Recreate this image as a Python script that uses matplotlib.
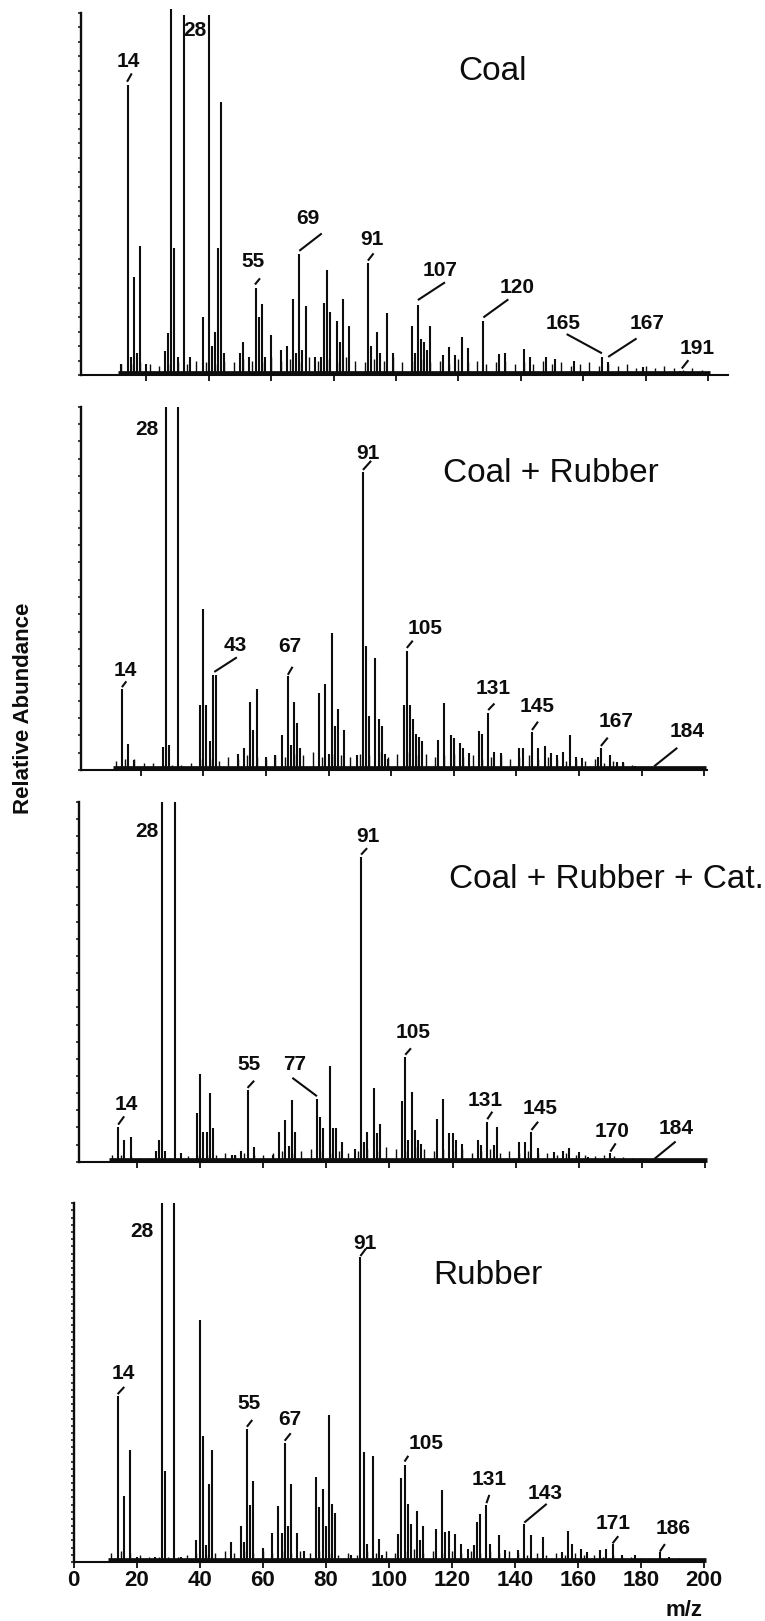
import matplotlib
matplotlib.use('Agg')
import matplotlib.pyplot as plt
import numpy as np

plt.rcParams['font.family'] = ['Liberation Sans', 'DejaVu Sans']

# ---------------- data (relative abundance, 1.0 = full scale) ----------------
coal_mz = [12, 14, 15, 16, 17, 18, 20, 26, 27, 28, 29, 30, 32, 34, 38, 40, 41, 42, 43, 44, 45,
           50, 51, 53, 55, 56, 57, 58, 60, 63, 65, 67, 68, 69, 70, 71, 74, 76, 77, 78, 79,
           81, 82, 83, 85, 91, 92, 94, 95, 97, 99, 105, 106, 107, 108, 109, 110, 111,
           115, 117, 119, 121, 123, 128, 133, 135, 141, 143, 148, 151, 157, 166, 168, 179, 191]
coal_h = [0.03, 0.80, 0.05, 0.27, 0.06, 0.355, 0.03, 0.065, 0.115, 1.01, 0.35, 0.05, 0.995, 0.05,
          0.16, 0.995, 0.08, 0.12, 0.35, 0.755, 0.06, 0.06, 0.09, 0.05, 0.24, 0.16, 0.196, 0.05,
          0.11, 0.07, 0.08, 0.21, 0.06, 0.335, 0.07, 0.19, 0.05, 0.05, 0.20, 0.29, 0.175,
          0.15, 0.09, 0.21, 0.135, 0.31, 0.08, 0.12, 0.06, 0.17, 0.06, 0.134, 0.06, 0.194, 0.10,
          0.09, 0.07, 0.134, 0.055, 0.077, 0.055, 0.106, 0.074, 0.148, 0.058, 0.06, 0.071, 0.05,
          0.05, 0.045, 0.04, 0.05, 0.037, 0.023, 0.011]

cr_mz = [14, 16, 18, 27, 28, 29, 32, 39, 40, 41, 42, 43, 44, 51, 53, 55, 56, 57, 60, 63, 65,
         67, 68, 69, 70, 71, 77, 79, 80, 81, 82, 83, 85, 89, 91, 92, 93, 95, 96, 97, 98, 99,
         104, 105, 106, 107, 108, 109, 110, 115, 117, 119, 120, 122, 123, 125, 128, 129, 131,
         133, 135, 141, 142, 145, 147, 149, 151, 153, 155, 157, 159, 161, 166, 167, 170, 172,
         174, 178]
cr_h = [0.222, 0.072, 0.027, 0.063, 1.0, 0.07, 1.0, 0.18, 0.443, 0.18, 0.08, 0.262, 0.262,
        0.045, 0.06, 0.186, 0.11, 0.224, 0.035, 0.04, 0.095, 0.258, 0.07, 0.186, 0.13, 0.06,
        0.213, 0.237, 0.045, 0.376, 0.12, 0.167, 0.11, 0.04, 0.82, 0.34, 0.15, 0.308, 0.14,
        0.12, 0.045, 0.03, 0.18, 0.327, 0.18, 0.14, 0.10, 0.09, 0.08, 0.083, 0.184, 0.097,
        0.088, 0.074, 0.06, 0.046, 0.108, 0.10, 0.157, 0.05, 0.046, 0.06, 0.06, 0.104, 0.06,
        0.065, 0.046, 0.04, 0.05, 0.097, 0.037, 0.032, 0.037, 0.06, 0.04, 0.023, 0.023, 0.01]

crc_mz = [14, 16, 18, 26, 27, 28, 29, 32, 34, 39, 40, 41, 42, 43, 44, 50, 51, 53, 55, 57, 63,
          65, 67, 68, 69, 70, 77, 78, 79, 81, 82, 83, 85, 89, 91, 92, 93, 95, 96, 97, 104, 105,
          106, 107, 108, 109, 110, 115, 117, 119, 120, 121, 123, 128, 129, 131, 133, 134, 141,
          143, 145, 147, 152, 155, 157, 160, 163, 170, 184]
crc_h = [0.097, 0.06, 0.07, 0.03, 0.06, 1.0, 0.03, 1.0, 0.025, 0.134, 0.245, 0.083, 0.083, 0.19,
         0.093, 0.02, 0.02, 0.03, 0.2, 0.04, 0.02, 0.083, 0.116, 0.045, 0.171, 0.083, 0.174,
         0.125, 0.093, 0.267, 0.093, 0.093, 0.056, 0.035, 0.847, 0.056, 0.083, 0.206, 0.08,
         0.106, 0.17, 0.29, 0.06, 0.194, 0.088, 0.06, 0.05, 0.118, 0.173, 0.08, 0.08, 0.06,
         0.05, 0.06, 0.046, 0.11, 0.046, 0.097, 0.055, 0.055, 0.083, 0.037, 0.028, 0.03, 0.037,
         0.028, 0.014, 0.023, 0.008]

rub_mz = [14, 16, 18, 20, 26, 28, 29, 32, 34, 39, 40, 41, 42, 43, 44, 50, 53, 54, 55, 56, 57,
          60, 63, 65, 66, 67, 68, 69, 71, 73, 77, 78, 79, 80, 81, 82, 83, 88, 91, 92, 93, 95,
          97, 98, 103, 104, 105, 106, 107, 109, 110, 111, 115, 117, 118, 119, 121, 123, 125,
          127, 128, 129, 131, 132, 135, 137, 141, 143, 145, 149, 155, 157, 158, 161, 163, 167,
          169, 171, 174, 178, 186, 189]
rub_h = [0.463, 0.185, 0.312, 0.015, 0.015, 1.0, 0.255, 1.0, 0.015, 0.06, 0.676, 0.352, 0.046,
         0.218, 0.312, 0.055, 0.10, 0.055, 0.37, 0.16, 0.225, 0.04, 0.08, 0.157, 0.08, 0.333,
         0.10, 0.218, 0.08, 0.03, 0.236, 0.153, 0.204, 0.10, 0.41, 0.162, 0.136, 0.02, 0.85,
         0.306, 0.05, 0.296, 0.065, 0.02, 0.079, 0.233, 0.27, 0.161, 0.107, 0.141, 0.06, 0.10,
         0.093, 0.20, 0.084, 0.087, 0.079, 0.051, 0.037, 0.047, 0.112, 0.135, 0.158, 0.051,
         0.074, 0.033, 0.033, 0.107, 0.076, 0.07, 0.028, 0.087, 0.051, 0.037, 0.028, 0.033,
         0.037, 0.051, 0.019, 0.019, 0.028, 0.014]

# low-level "grass" read every 3 m/z starting at m/z 12
coal_grass = [0.03, 0.03, 0.035, 0.03, 0.025, 0.03, 0.035, 0.03, 0.04, 0.035,
              0.03, 0.04, 0.035, 0.045, 0.04, 0.035, 0.05, 0.04, 0.045, 0.035,
              0.05, 0.04, 0.045, 0.035, 0.05, 0.04, 0.035, 0.045, 0.04, 0.05,
              0.035, 0.04, 0.045, 0.035, 0.04, 0.03, 0.045, 0.035, 0.04, 0.03,
              0.035, 0.04, 0.03, 0.035, 0.03, 0.04, 0.03, 0.035, 0.025, 0.03,
              0.035, 0.025, 0.03, 0.025, 0.03, 0.02, 0.025, 0.02, 0.025, 0.02,
              0.015, 0.02, 0.015]
cr_grass = [0.025, 0.03, 0.03, 0.02, 0.02, 0.015,
            0.015, 0.015, 0.02, 0.03, 0.03, 0.025, 0.035, 0.03, 0.04, 0.035,
            0.03, 0.04, 0.035, 0.045, 0.04, 0.05, 0.035, 0.045, 0.04, 0.035,
            0.045, 0.04, 0.05, 0.035, 0.045, 0.05, 0.04, 0.045, 0.035, 0.04,
            0.045, 0.035, 0.04, 0.03, 0.035, 0.04, 0.03, 0.035, 0.04, 0.03,
            0.035, 0.03, 0.025, 0.03, 0.025, 0.03, 0.02, 0.025, 0.02, 0.015,
            0.01, 0.01, 0.008, 0.008, 0.006, 0.006, 0.005]
crc_grass = [0.02, 0.02, 0.015, 0.01, 0.01, 0.01,
             0.01, 0.01, 0.015, 0.02, 0.02, 0.02, 0.025, 0.02, 0.025, 0.02,
             0.02, 0.025, 0.03, 0.025, 0.03, 0.035, 0.03, 0.025, 0.03, 0.025,
             0.03, 0.035, 0.03, 0.04, 0.035, 0.03, 0.04, 0.035, 0.03, 0.035,
             0.03, 0.035, 0.025, 0.03, 0.035, 0.025, 0.03, 0.025, 0.03, 0.025,
             0.025, 0.02, 0.025, 0.02, 0.02, 0.015, 0.02, 0.015, 0.012, 0.01,
             0.01, 0.008, 0.008, 0.006, 0.006, 0.005, 0.005]
rub_grass = [0.025, 0.03, 0.025, 0.02, 0.015, 0.015,
             0.015, 0.015, 0.02, 0.025, 0.02, 0.025, 0.03, 0.025, 0.03, 0.025,
             0.03, 0.025, 0.03, 0.025, 0.03, 0.025, 0.03, 0.025, 0.02, 0.025,
             0.02, 0.03, 0.025, 0.03, 0.025, 0.03, 0.035, 0.025, 0.03, 0.025,
             0.03, 0.025, 0.03, 0.025, 0.03, 0.025, 0.03, 0.025, 0.02, 0.025,
             0.02, 0.025, 0.02, 0.025, 0.02, 0.02, 0.015, 0.02, 0.015, 0.015,
             0.012, 0.012, 0.01, 0.01, 0.01, 0.008, 0.008]

titles = ['Coal', 'Coal + Rubber', 'Coal + Rubber + Cat.', 'Rubber']
x_ticks = [0, 20, 40, 60, 80, 100, 120, 140, 160, 180, 200]

# ---------------- layout ----------------
# peak labels: (text, text x, text y, leader segment or None)
coal_labels = [('14', 14.2, 0.865, (13.8, 0.81, 15.3, 0.833)),
               ('28', 35.6, 0.953, None),
               ('55', 54.1, 0.313, (54.8, 0.25, 56.4, 0.267)),
               ('69', 71.9, 0.433, (69, 0.343, 76.2, 0.391)),
               ('91', 92.2, 0.373, (91, 0.316, 92.8, 0.336)),
               ('107', 114.1, 0.29, (107, 0.207, 115.7, 0.256)),
               ('120', 138.7, 0.242, (128, 0.159, 136, 0.209)),
               ('165', 153.6, 0.143, (154.7, 0.113, 166, 0.06)),
               ('167', 180.3, 0.141, (177.1, 0.101, 168, 0.05)),
               ('191', 196.4, 0.074, (193.7, 0.041, 191.6, 0.018))]
cr_labels = [('28', 22.1, 0.937, None),
             ('14', 15.0, 0.275, (14, 0.228, 15.4, 0.244)),
             ('43', 50.1, 0.344, (43.5, 0.27, 50.7, 0.31)),
             ('67', 67.7, 0.34, (67, 0.262, 68.5, 0.284)),
             ('91', 92.7, 0.872, (91, 0.826, 93.6, 0.851)),
             ('105', 110.8, 0.39, (105, 0.336, 106.9, 0.356)),
             ('131', 132.7, 0.225, (131, 0.165, 133, 0.183)),
             ('145', 146.5, 0.174, (145, 0.11, 146.9, 0.133)),
             ('167', 172, 0.133, (167, 0.066, 169.2, 0.089)),
             ('184', 194.4, 0.105, (184, 0.01, 191.4, 0.061))]
crc_labels = [('28', 23.2, 0.917, None),
              ('14', 16.5, 0.158, (14, 0.103, 15.9, 0.126)),
              ('55', 55.5, 0.269, (55, 0.205, 57.1, 0.225)),
              ('77', 69.9, 0.27, (69.2, 0.233, 77, 0.182)),
              ('91', 93.1, 0.903, (91, 0.853, 92.9, 0.871)),
              ('105', 107.4, 0.358, (105, 0.297, 106.8, 0.315)),
              ('131', 130.4, 0.171, (131, 0.118, 132.6, 0.139)),
              ('145', 147.7, 0.148, (145, 0.088, 147.1, 0.111)),
              ('170', 170.7, 0.083, (170, 0.028, 171.7, 0.051)),
              ('184', 190.7, 0.093, (184, 0.008, 190.7, 0.056))]
rub_labels = [('28', 21.6, 0.921, None),
              ('14', 15.8, 0.526, (14, 0.468, 16.1, 0.488)),
              ('55', 55.8, 0.442, (55, 0.377, 56.7, 0.396)),
              ('67', 68.7, 0.396, (67, 0.338, 68.9, 0.359)),
              ('91', 92.5, 0.888, (91, 0.853, 92.8, 0.874)),
              ('105', 112, 0.331, (105, 0.28, 106.2, 0.296)),
              ('131', 131.9, 0.229, (131, 0.164, 131.9, 0.187)),
              ('143', 149.6, 0.192, (143, 0.11, 150.1, 0.162)),
              ('171', 171.2, 0.108, (171, 0.052, 172.8, 0.072)),
              ('186', 190.1, 0.094, (186, 0.029, 187.6, 0.05))]

W, H = 765, 1621
INK = '#0d0d0d'
# pixel boxes: left, right, top, baseline; x limits; number of y tick intervals
panels = [
    dict(box=(81, 728, 13, 375), xlim=(-0.96, 206.4), ny=25, title_xy=(131, 0.838)),
    dict(box=(80.7, 706.7, 406.7, 770), xlim=(0.83, 200.8), ny=21, title_xy=(151, 0.817)),
    dict(box=(79.3, 705, 801.7, 1161.7), xlim=(1.68, 199.7), ny=21, title_xy=None),
    dict(box=(73.5, 704, 1203.3, 1562), xlim=(0, 200), ny=50, title_xy=(131.4, 0.80)),
]
series = [(coal_mz, coal_h, coal_grass, coal_labels),
          (cr_mz, cr_h, cr_grass, cr_labels),
          (crc_mz, crc_h, crc_grass, crc_labels),
          (rub_mz, rub_h, rub_grass, rub_labels)]

fig = plt.figure(figsize=(W / 100, H / 100), dpi=100)
fig.patch.set_facecolor('white')

for i, (p, (mz, h, grass, labels)) in enumerate(zip(panels, series)):
    left, right, top, base = p['box']
    ax = fig.add_axes([left / W, 1 - base / H, (right - left) / W, (base - top) / H])
    ax.set_xlim(*p['xlim'])
    ax.set_ylim(0, 1)
    ax.patch.set_alpha(0)

    grass_mz = np.arange(12, 12 + 3 * len(grass), 3)
    ax.vlines(grass_mz, 0, grass, color=INK, lw=1.0, clip_on=False)
    ax.vlines(mz, 0, h, color=INK, lw=1.5, clip_on=False)
    ax.hlines(0.005, 11, 200.5, color=INK, lw=3.4, clip_on=False)

    for side in ['top', 'right']:
        ax.spines[side].set_visible(False)
    ax.spines['left'].set_linewidth(1.7)
    ax.spines['bottom'].set_linewidth(1.5)
    ax.spines['left'].set_color(INK)
    ax.spines['bottom'].set_color(INK)

    ticks = x_ticks if i == 3 else x_ticks[1:]
    ax.set_xticks(ticks)
    ax.tick_params(axis='x', direction='out', length=4, width=1.3, pad=1.5, colors=INK,
                   labelsize=16, labelbottom=(i == 3))
    for lab in ax.get_xticklabels():
        lab.set_fontweight('bold')
    ax.set_yticks(np.linspace(0, 1, p['ny'] + 1))
    ax.tick_params(axis='y', direction='out', length=2.5, width=1.1, colors=INK,
                   labelleft=False)

    for txt, tx, ty, seg in labels:
        ax.text(tx, ty, txt, ha='center', va='center', fontsize=15, fontweight='bold',
                color=INK)
        if seg is not None:
            ax.plot([seg[0], seg[2]], [seg[1], seg[3]], color=INK, lw=1.5,
                    solid_capstyle='butt', clip_on=False)

    if p['title_xy'] is not None:
        ax.text(p['title_xy'][0], p['title_xy'][1], titles[i], ha='center', va='center',
                fontsize=24, color=INK)
    else:
        fig.text(764 / W, 1 - 880 / H, titles[i], ha='right', va='center',
                 fontsize=24, color=INK)

fig.text(24 / W, 1 - 708 / H, 'Relative Abundance', rotation=90, ha='center', va='center',
         fontsize=16, fontweight='bold', color=INK)
fig.text(684 / W, 1 - 1610 / H, 'm/z', ha='center', va='center', fontsize=16,
         fontweight='bold', color=INK)

fig.savefig('out.png', dpi=100, facecolor='white')
